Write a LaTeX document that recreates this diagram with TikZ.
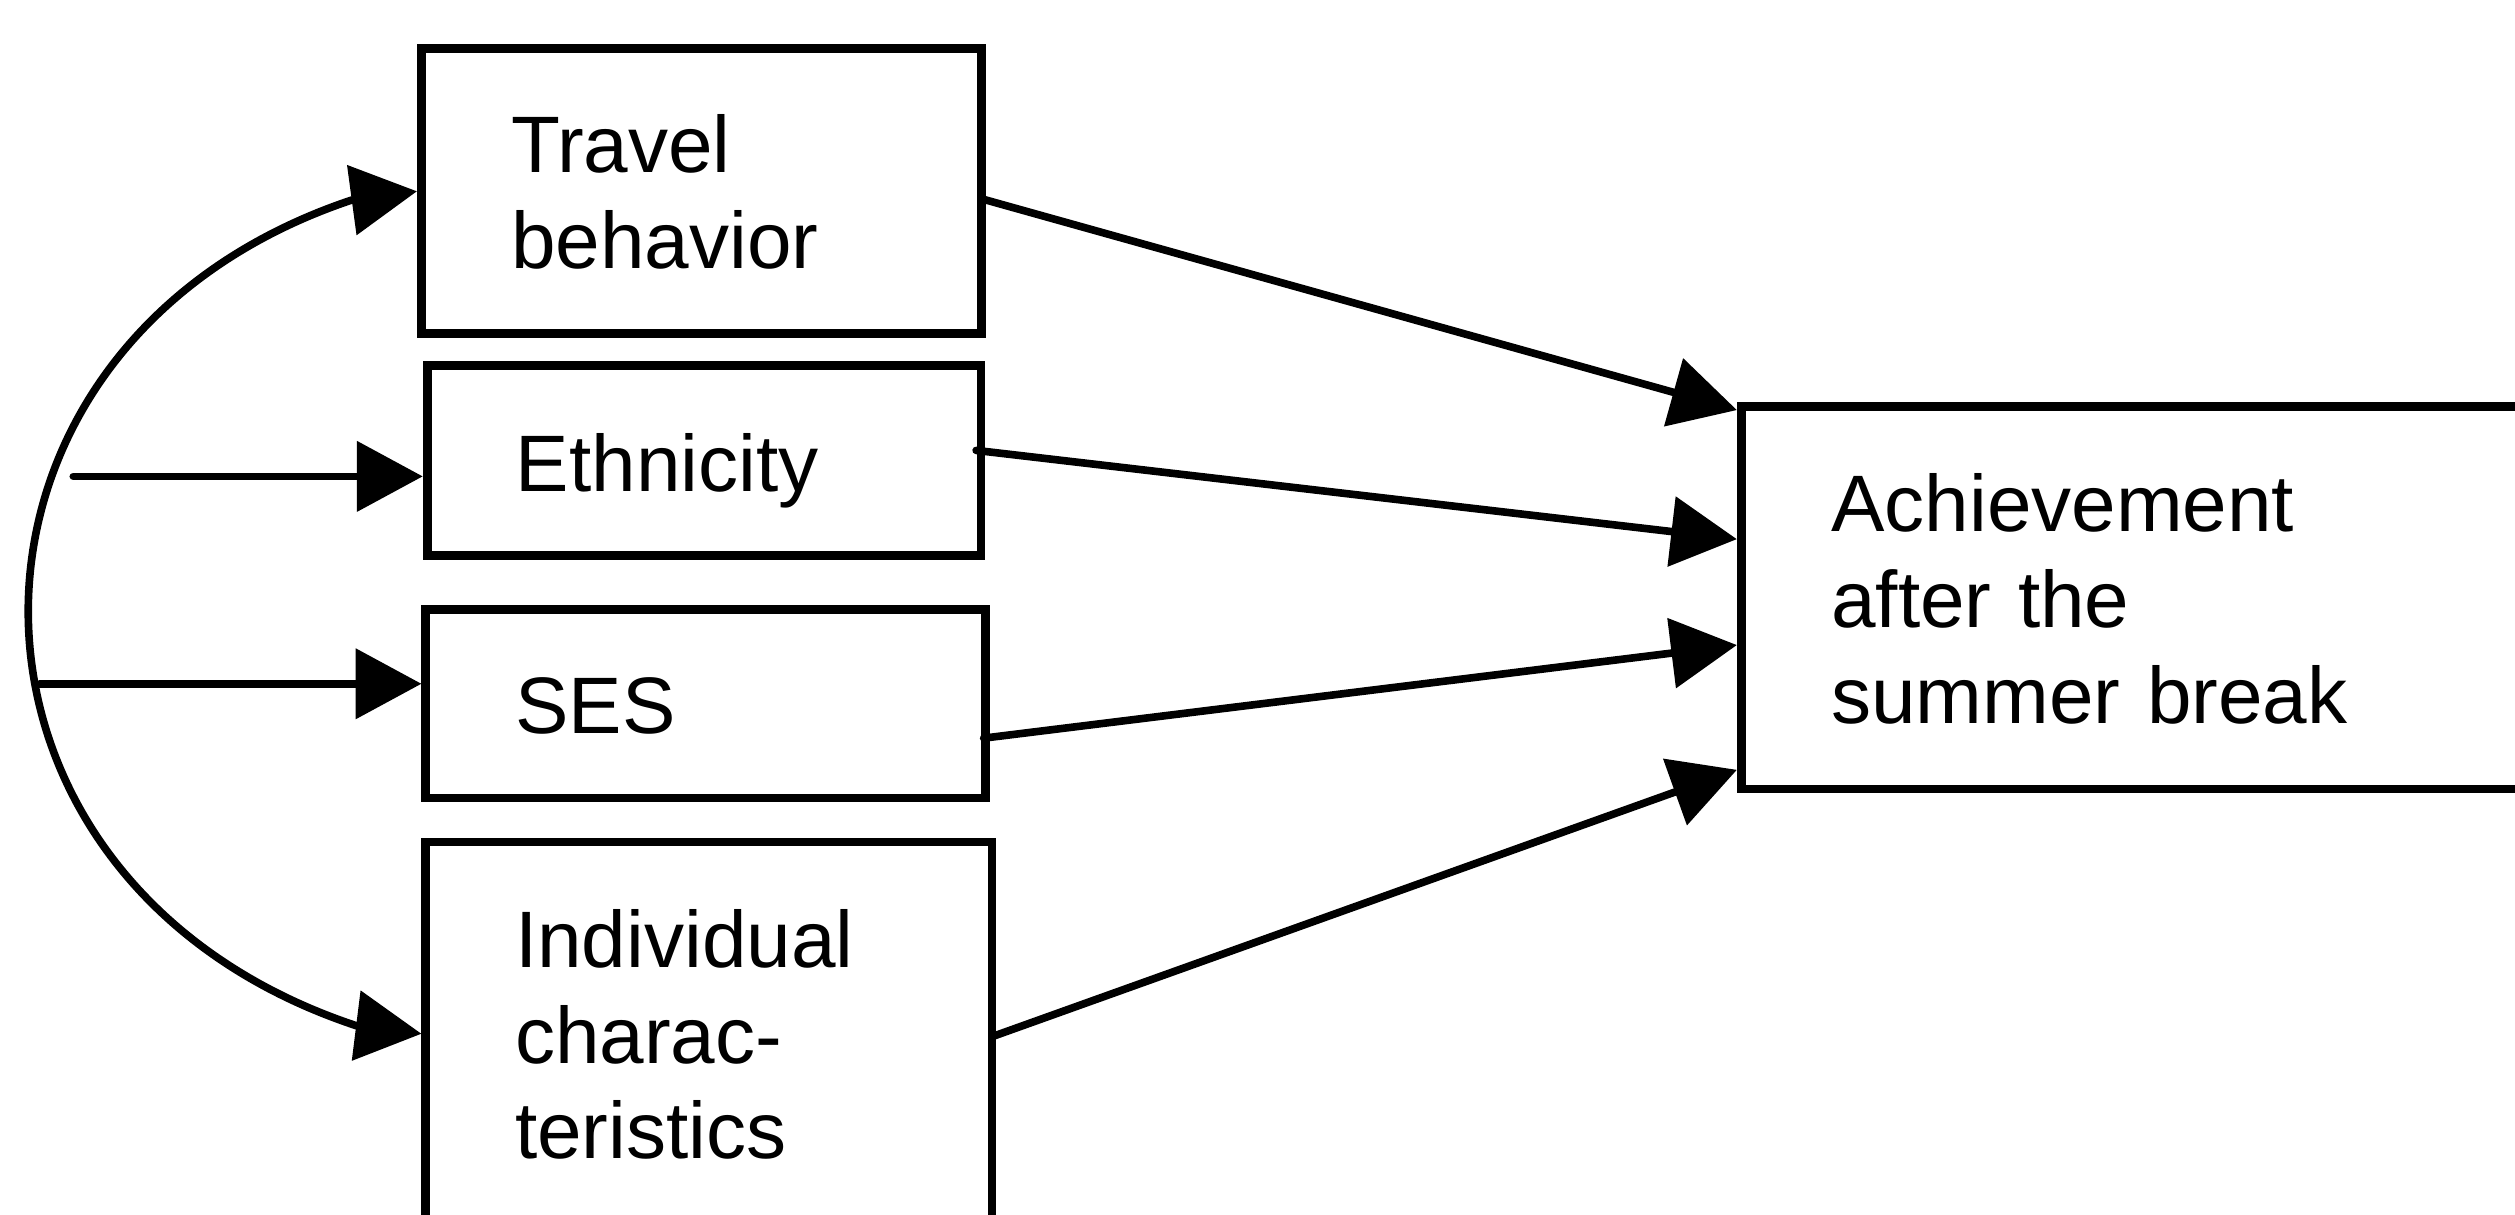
\documentclass[tikz,border=0pt]{standalone}
\usepackage{fontspec}
\setmainfont{Liberation Sans}
\usetikzlibrary{arrows.meta,calc}
\begin{document}
\begin{tikzpicture}[x=0.01cm,y=-0.01cm,
  box/.style={draw=black,line width=1.55pt,rectangle,inner sep=0pt},
  lbl/.style={inner sep=0pt,anchor=base west,text width=8cm,align=left,
    font=\fontsize{14.2pt}{17pt}\selectfont},
  tip/.style={-{Triangle[length=0.41cm,width=0.43cm]}},
  conn/.style={line width=1.35pt,line cap=round,tip},
  biconn/.style={line width=1.35pt,{Triangle[length=0.41cm,width=0.43cm]}-{Triangle[length=0.41cm,width=0.43cm]}}]
\useasboundingbox (0,0) rectangle (1568,757);
\clip (0,0) rectangle (1568,757);
% boxes
\node[box,minimum width=3.491cm,minimum height=1.775cm] (trav) at (437.35,119.25) {};
\node[box,minimum width=3.451cm,minimum height=1.185cm] (eth) at (438.95,287.15) {};
\node[box,minimum width=3.487cm,minimum height=1.175cm] (ses) at (439.95,438.65) {};
\node[box,minimum width=3.527cm,minimum height=2.39cm] (ind) at (441.95,644.5) {};
\node[box,minimum width=6.2cm,minimum height=2.383cm] (ach) at (1395.8,372.65) {};
% labels
\node[lbl] (travT) at (318,107.8) {Travel\\behavior};
\node[lbl] (ethT) at (321,306.6) {Ethnicity};
\node[lbl] (sesT) at (320.5,457) {SES};
\node[lbl] (indT) at (320.5,603) {Individual\\charac-\\teristics};
\node[lbl] (achT) at (1141,331.5) {Achievement\\after the\\summer break};
% correlation curve
\coordinate (c1) at (219,124.8);
\coordinate (c2) at (221.9,639.4);
\draw[biconn] (trav.west) -- (c1) .. controls (-50,215) and (-50,549) .. (c2) -- (ind.west);
\coordinate (ce) at (45.7,297);
\coordinate (cs) at (24.7,426.3);
\draw[conn] (ce) -- (ce -| eth.west);
\draw[conn] (cs) -- (cs -| ses.west);
% paths to outcome
\draw[conn] ($(trav.east)+(-2.5,4.75)$) -- ($(ach.west)+(0,-117)$);
\draw[conn] ($(eth.east)+(-5.75,-6.35)$) -- ($(ach.west)+(0,-36.5)$);
\draw[conn] ($(ses.east)+(-3.85,21.55)$) -- ($(ach.west)+(0,29.5)$);
\draw[conn] ($(ind.east)+(-2.55,1.8)$) -- ($(ach.west)+(0,107.3)$);
\end{tikzpicture}
\end{document}
